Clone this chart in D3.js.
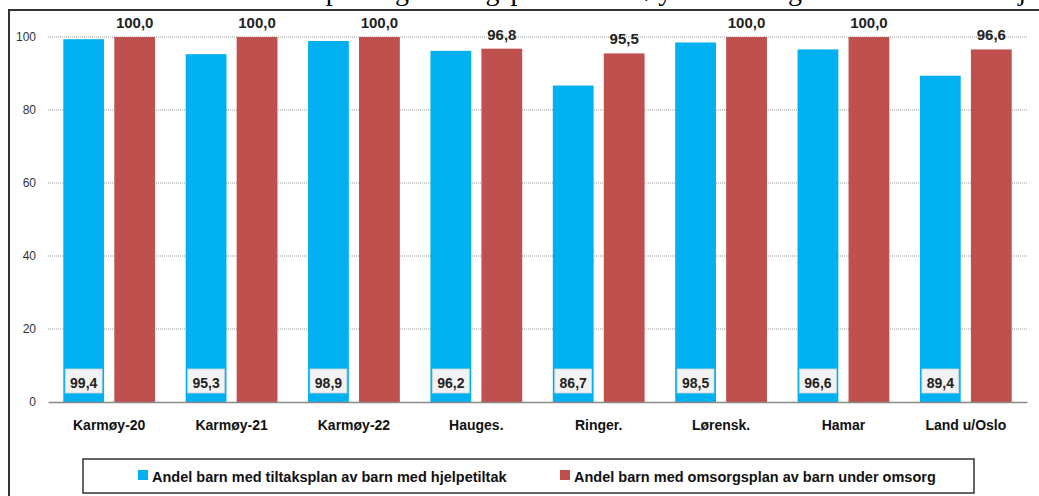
<!DOCTYPE html>
<html>
<head>
<meta charset="utf-8">
<script src="https://cdn.jsdelivr.net/npm/d3@7"></script>
<style>
  body { margin: 0; background: #fff; }
  svg { display: block; font-family: "Liberation Sans", Arial, sans-serif; }
</style>
</head>
<body>
<svg id="chart" width="1039" height="496"></svg>
<script>
// data
var kommuner = ["Karmøy-20", "Karmøy-21", "Karmøy-22", "Hauges.", "Ringer.", "Lørensk.", "Hamar", "Land u/Oslo"]
var tiltaksplan = [99.4, 95.3, 98.9, 96.2, 86.7, 98.5, 96.6, 89.4]
var omsorgsplan = [100.0, 100.0, 100.0, 96.8, 95.5, 100.0, 100.0, 96.6]
var seriesNames = ["Andel barn med tiltaksplan av barn med hjelpetiltak", "Andel barn med omsorgsplan av barn under omsorg"]
var yTicks = [0, 20, 40, 60, 80, 100]

var blue = "#00b0f0", red = "#c0504d"
var fmt = function (v) { return d3.format(".1f")(v).replace(".", ",") }

var svg = d3.select("#chart")

// title is cut off at the top of the picture, only the lower edge shows
svg.append("text")
    .attr("x", 70)
    .attr("y", 0)
    .style("font-family", "'Liberation Serif', serif")
    .style("font-size", "28px")
    .text("Andel barn med tiltaksplan og omsorgsplan i Karmøy sammenlignet med barneverntjenesten i andre kommuner, omsorgsplan")

// frame (left + top only visible)
svg.append("path")
    .attr("d", "M9,496 L9,10 L1039,10")
    .attr("fill", "none")
    .attr("stroke", "#333")
    .attr("stroke-width", 2)

var x0 = d3.scaleBand()
    .domain(kommuner)
    .range([48, 1027])
    .paddingInner(0.25)
    .paddingOuter(0.125)

var x1 = d3.scaleBand()
    .domain([0, 1])
    .range([0, x0.bandwidth()])
    .paddingInner(0.2)

var y = d3.scaleLinear().domain([0, 100]).range([402, 37])

// gridlines
svg.append("g").selectAll("line")
    .data(yTicks.filter(function (d) { return d > 0 }))
    .join("line")
    .attr("x1", 48).attr("x2", 1027)
    .attr("y1", function (d) { return y(d) }).attr("y2", function (d) { return y(d) })
    .attr("stroke", "#999")
    .attr("stroke-dasharray", "1,1")

// y axis labels
var yAxis = svg.append("g")
    .attr("transform", "translate(48,0)")
    .call(d3.axisLeft(y).tickValues(yTicks).tickSize(0).tickPadding(12))
yAxis.select(".domain").remove()
yAxis.selectAll("text").style("font-size", "12px").attr("fill", "#333")

var groups = svg.append("g").selectAll("g")
    .data(kommuner)
    .join("g")
    .attr("transform", function (d) { return "translate(" + x0(d) + ",0)" })

// blue bars
groups.append("rect")
    .attr("x", x1(0))
    .attr("width", x1.bandwidth())
    .attr("y", function (d, i) { return y(tiltaksplan[i]) })
    .attr("height", function (d, i) { return y(0) - y(tiltaksplan[i]) })
    .attr("fill", blue)

// red bars
groups.append("rect")
    .attr("x", x1(1))
    .attr("width", x1.bandwidth())
    .attr("y", function (d, i) { return y(omsorgsplan[i]) })
    .attr("height", function (d, i) { return y(0) - y(omsorgsplan[i]) })
    .attr("fill", red)

// boxed labels at the bottom of blue bars
groups.append("rect")
    .attr("x", x1(0) + 2)
    .attr("width", x1.bandwidth() - 4)
    .attr("y", y(0) - 33)
    .attr("height", 24)
    .attr("fill", "#f2f2f2")
    .attr("stroke", "#cfd8dc")
    .attr("stroke-width", 0.8)

groups.append("text")
    .attr("x", x1(0) + x1.bandwidth() / 2)
    .attr("y", y(0) - 14)
    .attr("text-anchor", "middle")
    .style("font-size", "14px")
    .style("font-weight", "bold")
    .attr("fill", "#222")
    .text(function (d, i) { return fmt(tiltaksplan[i]) })

// labels above red bars
groups.append("text")
    .attr("x", x1(1) + x1.bandwidth() / 2)
    .attr("y", function (d, i) { return y(omsorgsplan[i]) - 9 })
    .attr("text-anchor", "middle")
    .style("font-size", "15px")
    .style("font-weight", "bold")
    .attr("fill", "#222")
    .text(function (d, i) { return fmt(omsorgsplan[i]) })

// x axis
var xAxis = svg.append("g")
    .attr("transform", "translate(0," + y(0) + ")")
    .call(d3.axisBottom(x0).tickSize(0).tickPadding(18).tickSizeOuter(0))
xAxis.select(".domain").attr("stroke", "#888").attr("stroke-width", 1.5)
xAxis.selectAll("text")
    .style("font-size", "14px")
    .style("font-weight", "bold")
    .attr("fill", "#111")

// legend
var legend = svg.append("g")
legend.append("rect")
    .attr("x", 83).attr("y", 459)
    .attr("width", 891).attr("height", 34)
    .attr("fill", "#fff")
    .attr("stroke", "#333")
    .attr("stroke-width", 1.5)

var legendX = [138, 560]
var legendItems = legend.selectAll("g.item")
    .data(seriesNames)
    .join("g")
    .attr("class", "item")
    .attr("transform", function (d, i) { return "translate(" + legendX[i] + ",0)" })
legendItems.append("rect")
    .attr("x", 0).attr("y", 470)
    .attr("width", 10).attr("height", 10)
    .attr("fill", function (d, i) { return i == 0 ? blue : red })
legendItems.append("text")
    .attr("x", 14).attr("y", 482)
    .style("font-size", "14.5px")
    .style("font-weight", "bold")
    .attr("fill", "#111")
    .text(function (d) { return d })
</script>
</body>
</html>
